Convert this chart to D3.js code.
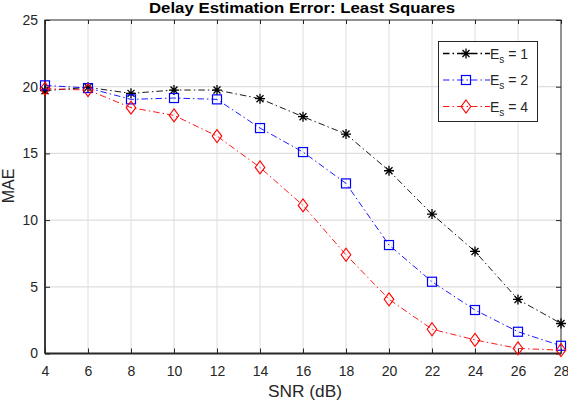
<!DOCTYPE html>
<html><head><meta charset="utf-8">
<script src="https://cdn.jsdelivr.net/npm/d3@7"></script>
<style>body{margin:0;background:#fff}svg{display:block}text{font-family:"Liberation Sans",Arial,sans-serif}</style>
</head><body>
<script>
const snr = [4,6,8,10,12,14,16,18,20,22,24,26,28];
const es1 = [19.7,19.95,19.5,19.75,19.75,19.1,17.75,16.45,13.7,10.45,7.65,4.05,2.25];
const es2 = [20.1,19.9,19.05,19.15,19.05,16.9,15.1,12.75,8.13,5.38,3.26,1.63,0.58];
const es4 = [19.85,19.75,18.43,17.85,16.3,13.95,11.1,7.4,4.06,1.82,1.02,0.38,0.25];
const xTicks = [4,6,8,10,12,14,16,18,20,22,24,26,28];
const yTicks = [0,5,10,15,20,25];
const seriesNames = ["1","2","4"];

const W=568,H=402;
const L=45,R=561,T=20,B=353.5;
const svg=d3.select("body").append("svg").attr("width",W).attr("height",H);
const x=d3.scaleLinear().domain([4,28]).range([L,R]);
const y=d3.scaleLinear().domain([0,25]).range([B,T]);

// grid
const g=svg.append("g");
g.selectAll(".gx").data(xTicks.slice(1,-1)).join("line")
 .attr("x1",d=>x(d)).attr("x2",d=>x(d)).attr("y1",T).attr("y2",B)
 .attr("stroke","#dedede").attr("stroke-width",1);
g.selectAll(".gy").data(yTicks.slice(1,-1)).join("line")
 .attr("y1",d=>y(d)).attr("y2",d=>y(d)).attr("x1",L).attr("x2",R)
 .attr("stroke","#dedede").attr("stroke-width",1.3);

// axes
const fmt=d3.format("d");
const ax=svg.append("g").attr("transform",`translate(0,${B})`)
 .call(d3.axisBottom(x).tickValues(xTicks).tickSize(-5).tickPadding(13).tickFormat(fmt));
const axT=svg.append("g").attr("transform",`translate(0,${T})`)
 .call(d3.axisTop(x).tickValues(xTicks).tickSize(-4).tickFormat(""));
const ay=svg.append("g").attr("transform",`translate(${L},0)`)
 .call(d3.axisLeft(y).tickValues(yTicks).tickSize(-5).tickPadding(7).tickFormat(fmt));
const ayR=svg.append("g").attr("transform",`translate(${R},0)`)
 .call(d3.axisRight(y).tickValues(yTicks).tickSize(-5).tickFormat(""));
[ax,axT,ay,ayR].forEach(a=>{
  a.selectAll(".domain").remove();
  a.selectAll(".tick line").attr("stroke","#262626");
  a.selectAll("text").attr("fill","#262626").style("font-size","14px").style("font-family","'Liberation Sans',Arial,sans-serif");
});
svg.append("rect").attr("x",L).attr("y",T).attr("width",R-L).attr("height",B-T)
 .attr("fill","none").attr("stroke","#262626").attr("stroke-width",1);
svg.append("line").attr("x1",L).attr("x2",R).attr("y1",B).attr("y2",B).attr("stroke","#262626").attr("stroke-width",1.8);
svg.append("line").attr("x1",L).attr("x2",L).attr("y1",T).attr("y2",B).attr("stroke","#262626").attr("stroke-width",1.6);

// labels
svg.append("text").attr("x",302).attr("y",13).attr("text-anchor","middle")
 .style("font-size","14px").style("font-weight","bold").attr("fill","#000")
 .attr("textLength",306).attr("lengthAdjust","spacingAndGlyphs")
 .text("Delay Estimation Error: Least Squares");
svg.append("text").attr("x",305).attr("y",397).attr("text-anchor","middle")
 .style("font-size","16px").attr("fill","#262626")
 .attr("textLength",74).attr("lengthAdjust","spacingAndGlyphs").text("SNR (dB)");
svg.append("text").attr("transform","translate(13.5,186) rotate(-90)").attr("text-anchor","middle")
 .style("font-size","16px").attr("fill","#262626").text("MAE");

const dash="6.5,3,1.5,3";
const series=[
 {v:es1,c:"#000",m:"star"},
 {v:es2,c:"#0000ff",m:"square"},
 {v:es4,c:"#ff0000",m:"diamond"}];
const line=d3.line().x((d,i)=>x(snr[i])).y(d=>y(d));

function marker(sel,type,c){
  if(type==="star"){
    const r=5;
    sel.append("path").attr("d",`M${-r},0H${r}M0,${-r}V${r}M${-r*0.7},${-r*0.7}L${r*0.7},${r*0.7}M${-r*0.7},${r*0.7}L${r*0.7},${-r*0.7}`)
      .attr("stroke",c).attr("stroke-width",1.3).attr("fill","none");
  } else if(type==="square"){
    sel.append("rect").attr("x",-4.5).attr("y",-4.5).attr("width",9).attr("height",9)
      .attr("stroke",c).attr("stroke-width",1.2).attr("fill","none");
  } else {
    sel.append("path").attr("d","M0,-6.5L4.8,0L0,6.5L-4.8,0Z")
      .attr("stroke",c).attr("stroke-width",1.1).attr("fill","none");
  }
}

series.forEach(s=>{
  svg.append("path").datum(s.v).attr("d",line).attr("fill","none")
   .attr("stroke",s.c).attr("stroke-width",0.9).attr("stroke-dasharray",dash);
  s.v.forEach((d,i)=>{
    const m=svg.append("g").attr("transform",`translate(${x(snr[i])},${y(d)})`);
    marker(m,s.m,s.c);
  });
});

// legend
const lg=svg.append("g");
lg.append("rect").attr("x",438.5).attr("y",41.5).attr("width",99).attr("height",80)
 .attr("fill","#fff").attr("stroke","#262626").attr("stroke-width",1);
const ly=[53.5,80,106.5];
series.forEach((s,i)=>{
  lg.append("line").attr("x1",443).attr("x2",490).attr("y1",ly[i]).attr("y2",ly[i])
   .attr("stroke",s.c).attr("stroke-width",i===0?1.6:0.9).attr("stroke-dasharray",dash);
  const m=lg.append("g").attr("transform",`translate(466,${ly[i]})`);
  marker(m,s.m,s.c);
  const t=lg.append("text").attr("x",490).attr("y",ly[i]+5).style("font-size","14px").attr("fill","#262626");
  t.append("tspan").text("E");
  t.append("tspan").attr("dy",4).style("font-size","10px").text("s");
  t.append("tspan").attr("dy",-4).text(" = "+seriesNames[i]);
});
</script>
</body></html>
